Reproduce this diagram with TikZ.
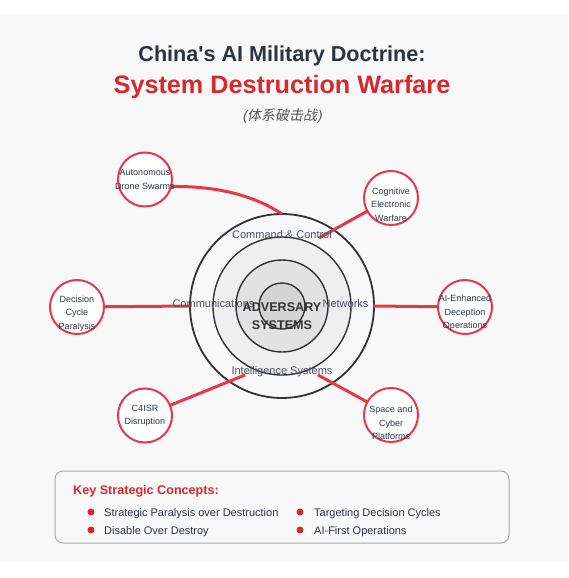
\documentclass[tikz,border=0pt]{standalone}
\usepackage{fontspec}
\setmainfont{Liberation Sans}[Ligatures=TeXOff]
\newfontfamily\cjk[FakeSlant=0.2]{Noto Sans CJK SC}
\newfontfamily\slantsans[FakeSlant=0.2]{Liberation Sans}
\definecolor{panel}{HTML}{F8F8F8}
\definecolor{titledark}{HTML}{2C3440}
\definecolor{titlered}{HTML}{D7282F}
\definecolor{satred}{HTML}{E63946}
\definecolor{ringdark}{HTML}{333333}
\definecolor{txtnavy}{HTML}{2D3748}
\definecolor{sublabel}{HTML}{4A5060}
\definecolor{subgray}{HTML}{555555}
\definecolor{fillA}{HTML}{F8F8F8}
\definecolor{fillB}{HTML}{EFEFEF}
\definecolor{fillC}{HTML}{E2E2E2}
\definecolor{fillD}{HTML}{D4D4D4}
\definecolor{boxline}{HTML}{AAAAAA}
\pgfdeclarelayer{back}
\pgfdeclarelayer{mid}
\pgfsetlayers{back,mid,main}
\tikzset{
  ringc/.style={circle, draw=ringdark, inner sep=0, outer sep=0},
  sat/.style={circle, draw=satred, fill=white, line width=2pt, minimum size=54pt, inner sep=0, outer sep=0},
  link/.style={draw=satred, line width=3pt},
  sattext/.style={font=\fontsize{9}{13.5}\selectfont, text=txtnavy, align=center, inner sep=0},
  ringlabel/.style={font=\fontsize{11}{13}\selectfont, text=sublabel, inner sep=0},
  bullettext/.style={font=\fontsize{11}{13}\selectfont, text=titledark, anchor=west, inner sep=0},
  bulletdot/.style={circle, fill=titlered, minimum size=7pt, inner sep=0}
}
\begin{document}
\begin{tikzpicture}[x=1pt,y=-1pt]
\useasboundingbox (0,0) rectangle (568,578);
\begin{pgfonlayer}{back}
  \fill[white] (0,0) rectangle (568,578);
  \fill[panel] (0,15) rectangle (568,561);
  \node[ringc, line width=1.8pt, fill=fillA, minimum size=184pt] (r1) at (282,306) {};
  \node[ringc, line width=1.4pt, fill=fillB, minimum size=138pt] (r2) at (282,306) {};
  \node[ringc, line width=1.4pt, fill=fillC, minimum size=92pt] (r3) at (282,306) {};
  \node[ringc, line width=1.4pt, fill=fillD, minimum size=46pt] (r4) at (282,306) {};
\end{pgfonlayer}

% titles
\node[font=\bfseries\fontsize{21.6}{26}\selectfont, text=titledark] (t1) at (282,56) {China's AI Military Doctrine:};
\node[font=\bfseries\fontsize{25.2}{30}\selectfont, text=titlered] (t2) at (282,86.5) {System Destruction Warfare};
\node[font=\fontsize{14}{16}\selectfont, text=subgray] (t3) at (282,116.5) {\slantsans(\cjk 体系破击战\slantsans)};

% ring labels
\node[ringlabel] (lcc) at (282,235) {Command \& Control};
\node[ringlabel] (lcom) at (213.5,304) {Communications};
\node[ringlabel] (lnet) at (345.5,304) {Networks};
\node[ringlabel] (lint) at (282,372) {Intelligence Systems};
\node[font=\bfseries\fontsize{12.6}{18}\selectfont, text=ringdark, align=center] (core) at (282,316) {ADVERSARY\\SYSTEMS};

% satellite circles
\node[sat] (drone) at (145,179.5) {};
\node[sat] (cog) at (391,198) {};
\node[sat] (dec) at (77,307) {};
\node[sat] (aie) at (465,307) {};
\node[sat] (c4) at (145,415.5) {};
\node[sat] (space) at (391,415) {};

\node[sattext] (droneT) at (145,179.5) {Autonomous\\Drone Swarms};
\node[sattext] (cogT) at (391,204.5) {Cognitive\\Electronic\\Warfare};
\node[sattext] (decT) at (77,313.5) {Decision\\Cycle\\Paralysis};
\node[sattext] (aieT) at (465,313) {AI-Enhanced\\Deception\\Operations};
\node[sattext] (c4T) at (145,416) {C4ISR\\Disruption};
\node[sattext] (spaceT) at (391,423) {Space and\\Cyber\\Platforms};

% connector endpoints on the rings
\coordinate (ctop) at (282,214);
\coordinate (ccog) at (319,238);
\coordinate (cleft) at (190,306);
\coordinate (cright) at (373,306);
\coordinate (cc4) at (245,375);
\coordinate (cspace) at (318,375);

\begin{pgfonlayer}{mid}
  \draw[link] (drone.-15) .. controls (216.7,186) and (253,195) .. (ctop);
  \draw[link] (cog) -- (ccog);
  \draw[link] (dec) -- (cleft);
  \draw[link] (aie) -- (cright);
  \draw[link] (c4) -- (cc4);
  \draw[link] (space) -- (cspace);
\end{pgfonlayer}

% legend
\node[draw=boxline, line width=1pt, fill=panel, rounded corners=8pt, minimum width=454pt, minimum height=72pt, inner sep=0] (legend) at (282,507) {};
\node[font=\bfseries\fontsize{12.6}{15}\selectfont, text=titlered, anchor=west, inner sep=0] (ltitle) at (73,491) {Key Strategic Concepts:};
\node[bulletdot] (b1) at (91,512) {};
\node[bullettext] (b1t) at (104,514) {Strategic Paralysis over Destruction};
\node[bulletdot] (b2) at (91,530) {};
\node[bullettext] (b2t) at (104,532) {Disable Over Destroy};
\node[bulletdot] (b3) at (300,512) {};
\node[bullettext] (b3t) at (314,514) {Targeting Decision Cycles};
\node[bulletdot] (b4) at (300,530) {};
\node[bullettext] (b4t) at (314,532) {AI-First Operations};
\end{tikzpicture}
\end{document}
